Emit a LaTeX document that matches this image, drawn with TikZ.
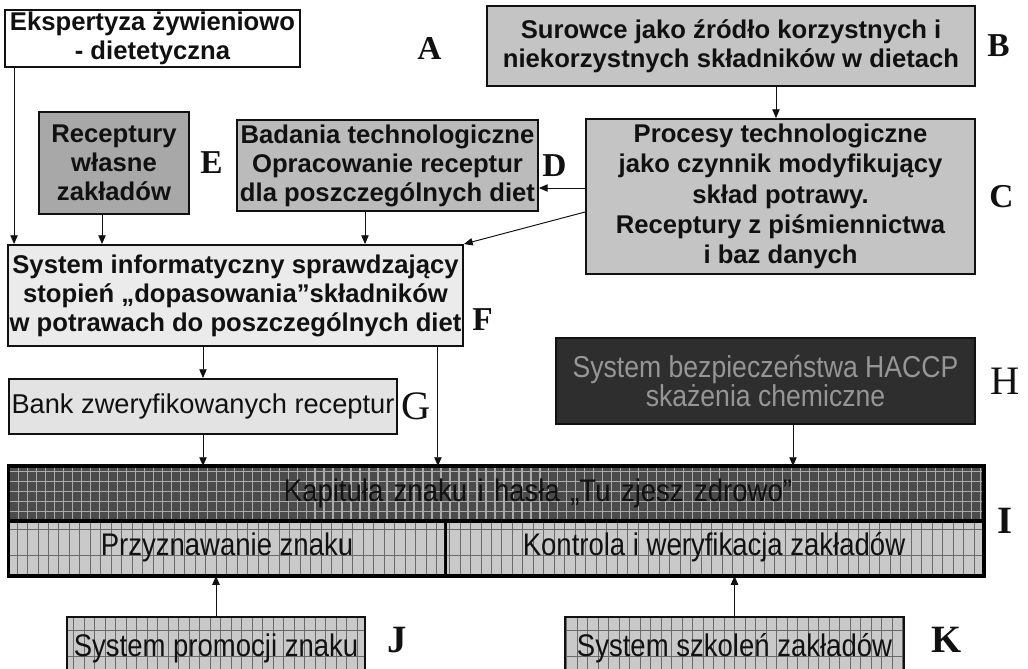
\documentclass[tikz,border=0pt]{standalone}
\usepackage{fontspec}
\setmainfont{Liberation Sans}
\newfontfamily\lblfont{Liberation Serif}
\newfontfamily\narrowfont[FakeStretch=0.88]{Liberation Sans}
\usepackage{xcolor}
\usetikzlibrary{arrows.meta,positioning}
\definecolor{tzInk}{HTML}{111111}
\definecolor{tzGray}{HTML}{C4C4C4}
\definecolor{tzGrayD}{HTML}{BBBBBB}
\definecolor{tzGrayE}{HTML}{A8A8A8}
\definecolor{tzPale}{HTML}{EBEBEB}
\definecolor{tzPaleG}{HTML}{E3E3E3}
\definecolor{tzDark}{HTML}{2E2E2E}
\definecolor{tzDarkTxt}{HTML}{969696}
\definecolor{tzKap}{HTML}{4B4B4B}
\definecolor{tzKapLine}{HTML}{ABABAB}
\definecolor{tzMesh}{HTML}{C9C9C9}
\definecolor{tzMeshLine}{HTML}{6A6A6A}
\tikzset{
  % Bold text box (base)
  bx/.style={rectangle,draw=tzInk,line width=1.1pt,inner sep=0pt,
    align=center,text=tzInk,font=\bfseries\fontsize{14.6}{16.5}\selectfont},
  % White box
  ebox/.style={bx,fill=white},
  % Gray boxes
  gbox/.style={bx,fill=tzGray},
  mgbox/.style={bx,fill=tzGrayD},
  dgbox/.style={bx,fill=tzGrayE},
  % Pale box
  lbox/.style={bx,fill=tzPale},
  % Pale box, plain text
  gtbox/.style={rectangle,draw=tzInk,line width=1.1pt,inner sep=0pt,
    align=center,fill=tzPaleG,text=tzInk,font=\fontsize{15.5}{16}\selectfont},
  % Dark box (HACCP)
  hbox/.style={rectangle,draw=tzInk,line width=1.1pt,inner sep=0pt,
    align=center,fill=tzDark,text=tzDarkTxt,
    font=\narrowfont\fontsize{17.2}{17}\selectfont},
  % Dark grid box
  kbox/.style={rectangle,draw=tzInk,line width=1.1pt,inner sep=0pt,
    align=center,fill=tzKap,text=tzInk,
    font=\narrowfont\fontsize{17.8}{17}\selectfont,
    path picture={\draw[tzKapLine,line width=0.6pt,xstep=0.18cm,ystep=0.2cm]
      (path picture bounding box.south west) grid (path picture bounding box.north east);}},
  % Light grid box
  mbox/.style={rectangle,draw=tzInk,line width=1.1pt,inner sep=0pt,
    align=center,fill=tzMesh,text=tzInk,
    font=\narrowfont\fontsize{17.8}{17}\selectfont,
    path picture={\draw[tzMeshLine,line width=0.35pt,xstep=0.21cm,ystep=0.53cm]
      (path picture bounding box.south west) grid (path picture bounding box.north east);}},
  % Letters
  lett/.style={inner sep=0pt,text=tzInk,font=\lblfont\bfseries\fontsize{19}{19}\selectfont},
  lettr/.style={inner sep=0pt,text=tzInk,font=\lblfont\fontsize{23}{23}\selectfont},
  lettb/.style={inner sep=0pt,text=tzInk,font=\lblfont\bfseries\fontsize{22}{22}\selectfont},
  % Arrows
  arr/.style={-{Triangle[length=5pt,width=4.2pt]},line width=0.55pt,color=tzInk},
}
\begin{document}
\begin{tikzpicture}[x=0.02cm,y=-0.02cm]
  \clip (0,0) rectangle (1028,669);

  % Upper boxes
  \node[ebox,minimum width=5.9cm,minimum height=1.14cm] (A) at (152.5,38.5)
    {Ekspertyza żywieniowo\\- dietetyczna};
  \node[gbox,minimum width=9.76cm,minimum height=1.6cm] (B) at (731,46)
    {Surowce jako źródło korzystnych i\\niekorzystnych składników w dietach};
  \node[dgbox,minimum width=3cm,minimum height=2.04cm] (E) at (114,163)
    {Receptury\\własne\\zakładów};
  \node[mgbox,minimum width=6.02cm,minimum height=1.82cm] (D) at (387.5,165.5)
    {Badania technologiczne\\Opracowanie receptur\\dla poszczególnych diet};
  \node[gbox,minimum width=7.78cm,minimum height=3.1cm,
    font=\bfseries\fontsize{14.6}{17.3}\selectfont] (C) at (780.5,196.5)
    {Procesy technologiczne\\jako czynnik modyfikujący\\skład potrawy.\\Receptury z piśmiennictwa\\i baz danych};
  \node[lbox,minimum width=9.1cm,minimum height=2.02cm] (F) at (235.5,295.5)
    {System informatyczny sprawdzający\\stopień „dopasowania”składników\\w potrawach do poszczególnych diet};
  \node[gtbox,minimum width=7.76cm,minimum height=1.1cm] (G) at (203,406.5)
    {Bank zweryfikowanych receptur};
  \node[hbox,minimum width=8.38cm,minimum height=1.72cm] (H) at (765.5,381)
    {System bezpieczeństwa HACCP\\skażenia chemiczne};

  % Kapitula block
  \node[kbox,minimum width=19.48cm,minimum height=1.06cm,text width=19.48cm] (kap) at (496,493.5)
    {\hspace*{1.68cm}Kapituła znaku i hasła „Tu zjesz zdrowo”};
  \node[mbox,minimum width=8.72cm,minimum height=1.1cm] (przy) at (227,547.5)
    {Przyznawanie znaku};
  \node[mbox,minimum width=10.76cm,minimum height=1.1cm] (kontr) at (714,547.5)
    {Kontrola i weryfikacja zakładów};
  \draw[line width=1.8pt] (kap.north west) rectangle (kontr.south east);
  \draw[line width=2.6pt] (kap.south west) -- (kap.south east);
  \draw[line width=1.5pt] (przy.north east) -- (przy.south east);

  % Bottom boxes
  \node[mbox,minimum width=5.96cm,minimum height=1.26cm] (J) at (216,648.5)
    {System promocji znaku};
  \node[mbox,minimum width=6.78cm,minimum height=1.26cm] (K) at (734.5,648.5)
    {System szkoleń zakładów};

  % Letters
  \node[lett,right=2.32cm of A,yshift=-0.19cm] (lA) {A};
  \node[lett,right=0.22cm of B] (lB) {B};
  \node[lett,right=0.26cm of C] (lC) {C};
  \node[lett,right=0.06cm of D] (lD) {D};
  \node[lett,right=0.2cm of E] (lE) {E};
  \node[lett,right=0.16cm of F,yshift=-0.49cm] (lF) {F};
  \node[lettr,right=0.06cm of G] (lG) {G};
  \node[lettr,right=0.28cm of H] (lH) {H};
  \node[lettb,right=0.26cm of kap.south east] (lI) {I};
  \node[lettb,right=0.42cm of J,yshift=0.17cm] (lJ) {J};
  \node[lettb,right=0.52cm of K,yshift=0.17cm] (lK) {K};

  % Connectors
  \coordinate (aF) at ([xshift=0.2cm]A.south west);
  \coordinate (eF) at ([xshift=-0.24cm]E.south);
  \coordinate (dF) at ([xshift=-0.45cm]D.south);
  \coordinate (cD) at ([yshift=0.17cm]C.west);
  \coordinate (bC) at ([xshift=0.9cm]B.south);
  \coordinate (fI) at ([xshift=-0.52cm]F.south east);
  \coordinate (hI) at ([xshift=0.55cm]H.south);
  \draw[arr] (aF) -- (aF |- F.north);
  \draw[arr] (eF) -- (eF |- F.north);
  \draw[arr] (dF) -- (dF |- F.north);
  \draw[arr] (bC) -- (bC |- C.north);
  \draw[arr] (cD) -- (cD -| D.east);
  \draw[arr] ([yshift=-0.31cm]C.west) -- (F.north east);
  \draw[arr] (F.south -| G.north) -- (G.north);
  \draw[arr] (fI) -- (fI |- kap.north);
  \draw[arr] (G.south) -- (G.south |- kap.north);
  \draw[arr] (hI) -- (hI |- kap.north);
  \draw[arr] (J.north) -- (J.north |- przy.south);
  \draw[arr] (K.north) -- (K.north |- kontr.south);
\end{tikzpicture}
\end{document}
